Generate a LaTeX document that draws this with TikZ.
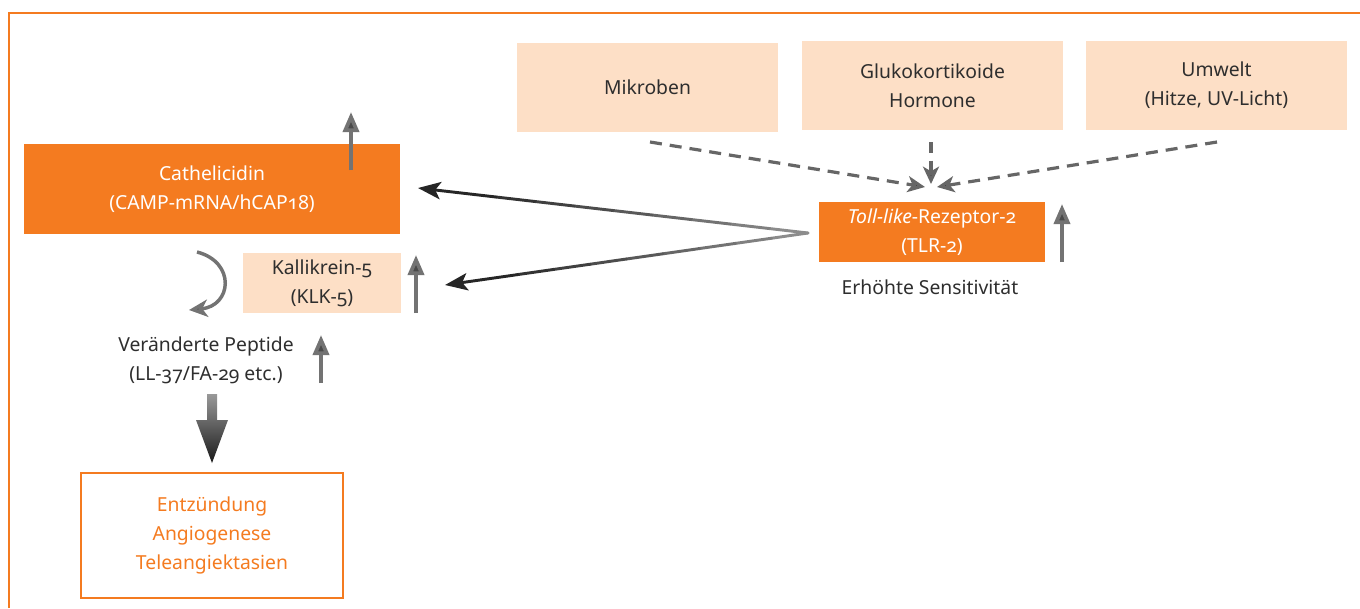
\documentclass[tikz,border=0pt]{standalone}
\usepackage{fontspec}
\setmainfont{Noto Sans}[Numbers=OldStyle]
\usetikzlibrary{arrows.meta,calc}
\definecolor{orng}{HTML}{F47B20}
\definecolor{peach}{HTML}{FDDFC6}
\definecolor{txt}{HTML}{2E2E2E}
\definecolor{arr}{HTML}{4A4A4A}
\tikzset{
  base/.style={inner sep=0pt, align=center, font=\fontsize{14.5}{21.75}\selectfont},
  darkbox/.style={base, fill=orng, text=white},
  lightbox/.style={base, fill=peach, text=txt},
  plain/.style={base, text=txt},
  outbox/.style={base, draw=orng, line width=1pt, text=orng},
  uparrow/.style={draw=black!55, line width=2.8pt, -{Triangle[length=15pt,width=12pt,fill=arr]}},
  dasharrow/.style={draw=black!60, line width=2.4pt, dash pattern=on 9pt off 6pt, -{Stealth[length=13pt,width=12pt,inset=3.5pt,fill=black!80]}},
  solidseg/.style={line width=2.2pt, line cap=round},
  solidtip/.style={draw=black!85, line width=2.2pt, -{Stealth[length=17pt,width=13pt,inset=4pt,fill=black!85]}},
}
\begin{document}
\begin{tikzpicture}[x=0.75pt,y=-0.75pt]
\useasboundingbox (0,0) rectangle (1360,608);
% frame
\draw[orng, line width=1pt] (9,608) -- (9,13) -- (1360,13);
% nodes
\node[darkbox, minimum width=282pt, minimum height=67.5pt] (cath) at (212,189) {Cathelicidin\\(CAMP-mRNA/hCAP18)};
\node[lightbox, minimum width=118.5pt, minimum height=45pt] (klk) at (322,283) {Kallikrein-5\\(KLK-5)};
\node[plain] (pep) at (206,360) {Veränderte Peptide\\(LL-37/FA-29 etc.)};
\node[outbox, minimum width=196.5pt, minimum height=93.75pt, font=\fontsize{14.5}{22}\selectfont] (out) at (212,535.5) {Entzündung\\Angiogenese\\Teleangiektasien};
\node[lightbox, minimum width=195.75pt, minimum height=66.75pt] (mik) at (647.5,87.5) {Mikroben};
\node[lightbox, minimum width=195.75pt, minimum height=66.75pt] (glu) at (932.5,85.5) {Glukokortikoide\\Hormone};
\node[lightbox, minimum width=195.75pt, minimum height=66.75pt] (umw) at (1216.5,85.5) {Umwelt\\(Hitze, UV-Licht)};
\node[darkbox, minimum width=169.5pt, minimum height=45pt] (tlr) at (932,232) {\textit{Toll-like}-Rezeptor-2\\(TLR-2)};
\node[plain] (sens) at (930,287) {Erhöhte Sensitivität};
% coordinates
\coordinate (src) at (808,233);
\coordinate (mikend) at (650,142);
\coordinate (gluend) at (931,142);
\coordinate (umwend) at (1217,142);
\coordinate (cathin) at (418,188);
\coordinate (klkin) at (445,285);
% dashed arrows
\draw[dasharrow] (mikend) -- (925,187);
\draw[dasharrow, dash pattern=on 8pt off 6pt] (gluend) -- (931,184);
\draw[dasharrow] (umwend) -- (937,187);
% solid arrows from TLR (gradient: light at TLR, dark at tip)
\foreach \i in {0,...,8}{
  \pgfmathsetmacro{\ta}{\i/10}
  \pgfmathsetmacro{\tb}{\i/10+0.1}
  \pgfmathtruncatemacro{\c}{45+5*\i}
  \draw[solidseg, draw=black!\c] ($(src)!\ta!(cathin)$) -- ($(src)!\tb!(cathin)$);
  \draw[solidseg, draw=black!\c] ($(src)!\ta!(klkin)$) -- ($(src)!\tb!(klkin)$);
}
\draw[solidtip] ($(src)!0.9!(cathin)$) -- (cathin);
\draw[solidtip] ($(src)!0.9!(klkin)$) -- (klkin);
% up arrows
\coordinate (u1a) at (351,170); \coordinate (u1b) at (351,112);
\coordinate (u2a) at (416,313); \coordinate (u2b) at (416,255);
\coordinate (u3a) at (321,383); \coordinate (u3b) at (321,335);
\coordinate (u4a) at (1062,262); \coordinate (u4b) at (1062,204);
\draw[uparrow] (u1a) -- (u1b);
\draw[uparrow] (u2a) -- (u2b);
\draw[uparrow] (u3a) -- (u3b);
\draw[uparrow] (u4a) -- (u4b);
% curved arrow
\coordinate (c1) at (197,252);
\coordinate (c2) at (189,310);
\draw[draw=black!55, line width=2.6pt, -{Stealth[length=14pt,width=13pt,inset=4pt,fill=arr]}] (c1) .. controls (236,262) and (232,306) .. (c2);
% big down arrow
\shade[top color=black!40, bottom color=black!90] (207,394) -- (217,394) -- (217,420) -- (228,420) -- (212,463) -- (196,420) -- (207,420) -- cycle;
\end{tikzpicture}
\end{document}
